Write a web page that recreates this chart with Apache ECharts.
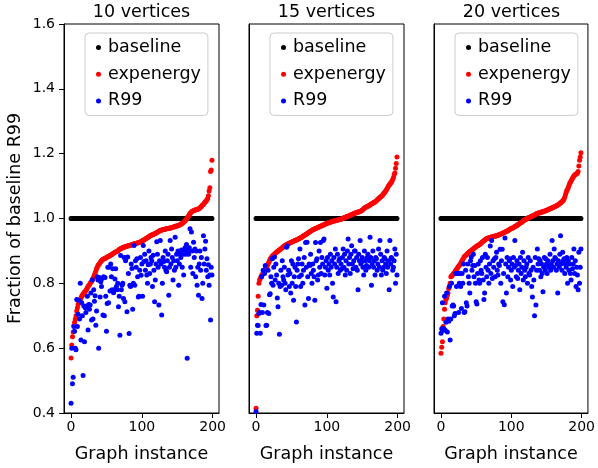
<!DOCTYPE html>
<html><head><meta charset="utf-8">
<script src="https://cdn.jsdelivr.net/npm/echarts@6/dist/echarts.min.js"></script>
<style>html,body{margin:0;padding:0;background:#fff}#c{width:598px;height:468px}</style>
</head><body><div id="c"></div>
<script>
const panelTitles = ['10 vertices', '15 vertices', '20 vertices'];
const seriesNames = ['baseline', 'expenergy', 'R99'];
const xTickValues = [0, 100, 200];
const xAxisTitle = 'Graph instance';
const yAxisTitle = 'Fraction of baseline R99';
const baselineLevel = 1.0;

const expenergy10 = [
0.57,0.61,0.635,0.65,0.67,0.68,0.69,0.70,0.715,0.725,0.735,0.74,0.745,0.75,0.755,0.76,0.763,0.767,0.77,0.773,
0.775,0.778,0.782,0.786,0.79,0.793,0.796,0.80,0.803,0.806,0.81,0.815,0.82,0.826,0.832,0.838,0.845,0.85,0.855,0.858,
0.86,0.864,0.867,0.87,0.872,0.874,0.875,0.876,0.877,0.878,0.88,0.881,0.882,0.883,0.884,0.886,0.887,0.888,0.89,0.891,
0.893,0.894,0.896,0.897,0.898,0.899,0.90,0.902,0.904,0.906,0.907,0.908,0.909,0.91,0.911,0.912,0.912,0.913,0.914,0.915,
0.915,0.916,0.916,0.917,0.918,0.918,0.919,0.92,0.921,0.921,0.922,0.923,0.923,0.924,0.925,0.925,0.926,0.927,0.928,0.929,
0.93,0.932,0.933,0.934,0.936,0.937,0.938,0.94,0.941,0.943,0.944,0.946,0.947,0.948,0.949,0.95,0.951,0.952,0.953,0.954,
0.955,0.956,0.958,0.959,0.96,0.962,0.963,0.964,0.964,0.965,0.966,0.966,0.967,0.967,0.968,0.968,0.969,0.969,0.97,0.97,
0.971,0.971,0.972,0.972,0.973,0.974,0.975,0.976,0.976,0.977,0.977,0.978,0.979,0.98,0.981,0.982,0.983,0.985,0.987,0.989,
0.99,0.993,0.995,0.998,1.002,1.005,1.008,1.012,1.015,1.018,1.02,1.022,1.023,1.024,1.025,1.026,1.027,1.027,1.028,1.029,
1.029,1.031,1.033,1.035,1.037,1.04,1.042,1.044,1.047,1.05,1.052,1.055,1.058,1.062,1.07,1.085,1.095,1.145,1.15,1.18];

const r99_10 = [
0.43,0.60,0.49,0.51,0.667,0.652,0.60,0.595,0.75,0.667,
0.705,0.748,0.69,0.80,0.625,0.74,0.70,0.516,0.73,0.62,
0.725,0.71,0.73,0.76,0.656,0.735,0.72,0.733,0.77,0.687,
0.81,0.69,0.78,0.745,0.762,0.671,0.715,0.82,0.81,0.60,
0.818,0.758,0.805,0.79,0.815,0.702,0.82,0.70,0.818,0.76,
0.652,0.738,0.85,0.74,0.85,0.776,0.86,0.82,0.78,0.845,
0.771,0.78,0.813,0.845,0.79,0.78,0.80,0.728,0.76,0.64,
0.886,0.78,0.794,0.80,0.753,0.88,0.743,0.87,0.88,0.712,
0.881,0.83,0.645,0.794,0.79,0.86,0.846,0.72,0.80,0.917,
0.794,0.87,0.85,0.876,0.82,0.758,0.76,0.84,0.88,0.825,
0.86,0.76,0.917,0.867,0.89,0.84,0.87,0.826,0.80,0.857,
0.90,0.83,0.86,0.88,0.87,0.79,0.887,0.84,0.743,0.81,
0.86,0.928,0.89,0.85,0.733,0.87,0.932,0.86,0.702,0.80,
0.88,0.867,0.85,0.90,0.84,0.836,0.87,0.89,0.763,0.85,
0.932,0.86,0.906,0.88,0.81,0.87,0.84,0.942,0.85,0.89,
0.87,0.90,0.794,0.86,0.89,0.88,0.903,0.85,0.89,0.826,
0.90,0.91,0.89,0.92,0.569,0.90,0.89,0.91,0.968,0.85,
0.958,0.90,0.83,0.927,0.88,0.906,0.82,0.90,0.794,0.85,
0.763,0.86,0.90,0.84,0.88,0.753,0.80,0.947,0.86,0.906,
0.93,0.84,0.876,0.82,0.857,0.794,0.826,0.687,0.85,0.826];

const expenergy15 = [
0.415,0.70,0.717,0.76,0.80,0.81,0.815,0.82,0.825,0.828,0.83,0.835,0.84,0.845,0.848,0.85,0.855,0.86,0.865,0.87,
0.875,0.878,0.881,0.884,0.886,0.888,0.89,0.892,0.894,0.896,0.898,0.90,0.901,0.903,0.905,0.906,0.908,0.91,0.912,0.914,
0.916,0.917,0.918,0.919,0.92,0.922,0.923,0.924,0.925,0.926,0.927,0.928,0.929,0.93,0.931,0.932,0.933,0.934,0.935,0.936,
0.937,0.938,0.94,0.941,0.942,0.943,0.945,0.946,0.948,0.949,0.95,0.952,0.953,0.955,0.956,0.958,0.959,0.961,0.962,0.964,
0.965,0.966,0.967,0.968,0.969,0.97,0.971,0.972,0.973,0.974,0.975,0.976,0.977,0.978,0.979,0.98,0.981,0.982,0.983,0.984,
0.985,0.986,0.986,0.987,0.988,0.989,0.99,0.99,0.991,0.992,0.992,0.993,0.993,0.994,0.994,0.995,0.996,0.996,0.997,0.997,
0.998,0.999,1.0,1.001,1.002,1.003,1.004,1.005,1.006,1.006,1.007,1.008,1.009,1.01,1.011,1.012,1.013,1.014,1.015,1.016,
1.017,1.018,1.018,1.019,1.02,1.02,1.021,1.022,1.023,1.024,1.026,1.028,1.03,1.032,1.034,1.035,1.036,1.037,1.038,1.039,
1.041,1.042,1.044,1.045,1.046,1.047,1.049,1.05,1.051,1.053,1.055,1.057,1.059,1.061,1.063,1.065,1.067,1.069,1.07,1.073,
1.076,1.079,1.082,1.085,1.088,1.092,1.096,1.10,1.103,1.106,1.109,1.112,1.116,1.12,1.126,1.135,1.14,1.155,1.17,1.19];

const r99_15 = [
0.405,0.646,0.671,0.67,0.707,0.71,0.646,0.735,0.82,0.71,
0.84,0.733,0.83,0.855,0.67,0.671,0.71,0.84,0.707,0.765,
0.768,0.82,0.80,0.876,0.794,0.85,0.881,0.81,0.86,0.826,
0.755,0.728,0.80,0.643,0.79,0.84,0.794,0.87,0.82,0.81,
0.85,0.80,0.78,0.911,0.915,0.826,0.84,0.79,0.83,0.77,
0.87,0.80,0.86,0.748,0.82,0.85,0.79,0.681,0.84,0.86,
0.876,0.82,0.906,0.79,0.826,0.86,0.80,0.84,0.88,0.733,
0.926,0.85,0.927,0.82,0.753,0.86,0.855,0.89,0.83,0.80,
0.86,0.84,0.82,0.748,0.926,0.87,0.876,0.81,0.826,0.90,
0.85,0.926,0.83,0.88,0.86,0.932,0.937,0.826,0.85,0.87,
0.785,0.88,0.84,0.86,0.826,0.89,0.85,0.87,0.80,0.758,
0.88,0.86,0.906,0.743,0.85,0.89,0.83,0.87,0.876,0.84,
0.86,0.845,0.88,0.906,0.85,0.89,0.826,0.87,0.84,0.90,
0.937,0.86,0.88,0.83,0.89,0.916,0.86,0.845,0.87,0.90,
0.90,0.85,0.88,0.84,0.78,0.89,0.87,0.932,0.86,0.866,
0.88,0.85,0.826,0.90,0.87,0.84,0.855,0.88,0.89,0.85,
0.87,0.942,0.88,0.794,0.86,0.90,0.85,0.87,0.826,0.88,
0.876,0.84,0.86,0.906,0.85,0.932,0.89,0.826,0.87,0.84,
0.85,0.88,0.876,0.86,0.83,0.90,0.85,0.87,0.78,0.932,
0.86,0.88,0.876,0.84,0.85,0.87,0.906,0.80,0.89,0.826];

const expenergy20 = [
0.584,0.603,0.62,0.667,0.69,0.72,0.74,0.75,0.755,0.763,0.77,0.784,0.79,0.80,0.82,0.822,0.825,0.828,0.83,0.833,
0.836,0.84,0.843,0.846,0.85,0.853,0.855,0.858,0.862,0.866,0.87,0.874,0.877,0.881,0.884,0.886,0.888,0.89,0.892,0.894,
0.896,0.898,0.90,0.901,0.903,0.905,0.906,0.908,0.91,0.912,0.913,0.915,0.916,0.917,0.919,0.92,0.922,0.924,0.926,0.928,
0.93,0.931,0.933,0.935,0.937,0.938,0.939,0.94,0.94,0.941,0.942,0.942,0.943,0.944,0.944,0.945,0.945,0.946,0.946,0.947,
0.948,0.948,0.949,0.95,0.951,0.952,0.953,0.954,0.955,0.956,0.957,0.958,0.959,0.96,0.961,0.963,0.964,0.965,0.967,0.968,
0.969,0.97,0.971,0.972,0.974,0.975,0.976,0.978,0.979,0.98,0.982,0.983,0.985,0.986,0.988,0.989,0.991,0.993,0.994,0.996,
0.997,0.998,1.0,1.001,1.002,1.003,1.004,1.005,1.006,1.007,1.008,1.009,1.01,1.011,1.012,1.014,1.015,1.016,1.016,1.017,
1.018,1.018,1.019,1.02,1.02,1.021,1.022,1.022,1.023,1.024,1.025,1.026,1.027,1.028,1.029,1.03,1.031,1.032,1.033,1.034,
1.035,1.036,1.037,1.038,1.039,1.04,1.042,1.043,1.045,1.046,1.048,1.05,1.052,1.054,1.056,1.06,1.066,1.073,1.08,1.087,
1.09,1.096,1.102,1.108,1.112,1.116,1.12,1.124,1.128,1.131,1.134,1.136,1.137,1.138,1.14,1.145,1.162,1.18,1.19,1.203];

const r99_20 = [
0.646,0.66,0.74,0.655,0.66,0.76,0.655,0.68,0.77,0.65,
0.69,0.683,0.79,0.625,0.69,0.80,0.73,0.733,0.73,0.70,
0.707,0.83,0.79,0.83,0.83,0.71,0.80,0.83,0.79,0.722,
0.83,0.80,0.86,0.71,0.712,0.84,0.74,0.73,0.86,0.82,
0.80,0.77,0.87,0.881,0.84,0.855,0.89,0.82,0.855,0.80,
0.743,0.736,0.83,0.86,0.81,0.80,0.87,0.84,0.83,0.88,
0.81,0.75,0.77,0.89,0.85,0.82,0.88,0.84,0.80,0.86,
0.915,0.83,0.932,0.815,0.87,0.85,0.876,0.82,0.88,0.896,
0.84,0.826,0.86,0.855,0.905,0.80,0.87,0.905,0.743,0.83,
0.734,0.94,0.86,0.77,0.88,0.82,0.85,0.87,0.876,0.81,
0.84,0.86,0.79,0.88,0.85,0.932,0.855,0.82,0.87,0.815,
0.84,0.86,0.78,0.88,0.83,0.85,0.896,0.81,0.87,0.84,
0.82,0.85,0.86,0.80,0.88,0.83,0.826,0.87,0.84,0.79,
0.758,0.85,0.81,0.70,0.88,0.733,0.84,0.906,0.86,0.876,
0.84,0.87,0.82,0.86,0.83,0.774,0.85,0.88,0.84,0.876,
0.86,0.83,0.87,0.85,0.855,0.89,0.84,0.86,0.932,0.87,
0.85,0.906,0.88,0.876,0.84,0.86,0.77,0.87,0.85,0.89,
0.947,0.86,0.84,0.896,0.87,0.876,0.83,0.86,0.85,0.88,
0.80,0.87,0.84,0.86,0.83,0.81,0.88,0.845,0.86,0.906,
0.83,0.87,0.79,0.85,0.826,0.78,0.896,0.80,0.85,0.906];

const panels = [
  { title: panelTitles[0], exp: expenergy10, r99: r99_10 },
  { title: panelTitles[1], exp: expenergy15, r99: r99_15 },
  { title: panelTitles[2], exp: expenergy20, r99: r99_20 }
];
const seriesColors = ['#000000', '#ff0000', '#0000ff'];

const FONT = 'DejaVu Sans';
const BIG = 17.5;
const gridLeft = [64, 249, 434];
const gridW = 155, gridTop = 24, gridH = 391;

const toPoints = arr => arr.map((v, i) => [i, v]);

const option = {
  animation: false,
  backgroundColor: '#ffffff',
  title: [], grid: [], xAxis: [], yAxis: [], series: [], legend: []
};

panels.forEach((p, k) => {
  option.title.push({
    text: p.title, left: gridLeft[k] + gridW / 2, top: 3, textAlign: 'center', padding: 0,
    textStyle: { fontFamily: FONT, fontSize: BIG, fontWeight: 'normal', color: '#000' }
  });
  option.grid.push({ left: gridLeft[k], top: gridTop, width: gridW, height: gridH,
    show: true, borderColor: '#000', borderWidth: 1, backgroundColor: 'transparent' });
  option.xAxis.push({
    gridIndex: k, type: 'value', min: -9.95, max: 208.95,
    name: xAxisTitle, nameLocation: 'middle', nameGap: 32,
    nameTextStyle: { fontFamily: FONT, fontSize: BIG, color: '#000' },
    axisLine: { show: true, onZero: false, lineStyle: { color: '#000', width: 1 } },
    axisTick: { show: true, inside: false, length: 5, customValues: xTickValues, lineStyle: { color: '#000' } },
    axisLabel: { show: true, customValues: xTickValues, margin: 7, fontFamily: FONT, fontSize: 14, color: '#000' },
    splitLine: { show: false }
  });
  option.yAxis.push({
    gridIndex: k, type: 'value', min: 0.4, max: 1.6, interval: 0.2,
    name: k === 0 ? yAxisTitle : '', nameLocation: 'middle', nameGap: 40,
    nameTextStyle: { fontFamily: FONT, fontSize: BIG, color: '#000' },
    axisLine: { show: true, onZero: false, lineStyle: { color: '#000', width: 1 } },
    axisTick: { show: k === 0, length: 5, lineStyle: { color: '#000' } },
    axisLabel: { show: k === 0, margin: 9, fontFamily: FONT, fontSize: 14, color: '#000',
      formatter: v => v.toFixed(1) },
    splitLine: { show: false }
  });
  const seriesData = [p.exp.map(() => baselineLevel), p.exp, p.r99];
  seriesNames.forEach((name, s) => {
    option.series.push({
      type: 'scatter', name: name, xAxisIndex: k, yAxisIndex: k,
      data: toPoints(seriesData[s]), symbol: 'circle', symbolSize: 5,
      itemStyle: { color: seriesColors[s], opacity: 1 },
      emphasis: { disabled: true }, z: 2 + s
    });
  });
  option.legend.push({
    data: seriesNames.map(n => ({ name: n, icon: 'circle' })),
    orient: 'vertical', left: gridLeft[k] + 21, top: 33,
    itemWidth: 9, itemHeight: 5, itemGap: 6.7,
    padding: [4.5, 7, 4.5, 11],
    borderColor: '#cccccc', borderWidth: 1, borderRadius: 4,
    backgroundColor: 'rgba(255,255,255,0.8)',
    selectedMode: false,
    textStyle: { fontFamily: FONT, fontSize: BIG, color: '#000', lineHeight: 20 }
  });
});

const chart = echarts.init(document.getElementById('c'), null, { renderer: 'canvas' });
chart.setOption(option);
</script>
</body></html>
